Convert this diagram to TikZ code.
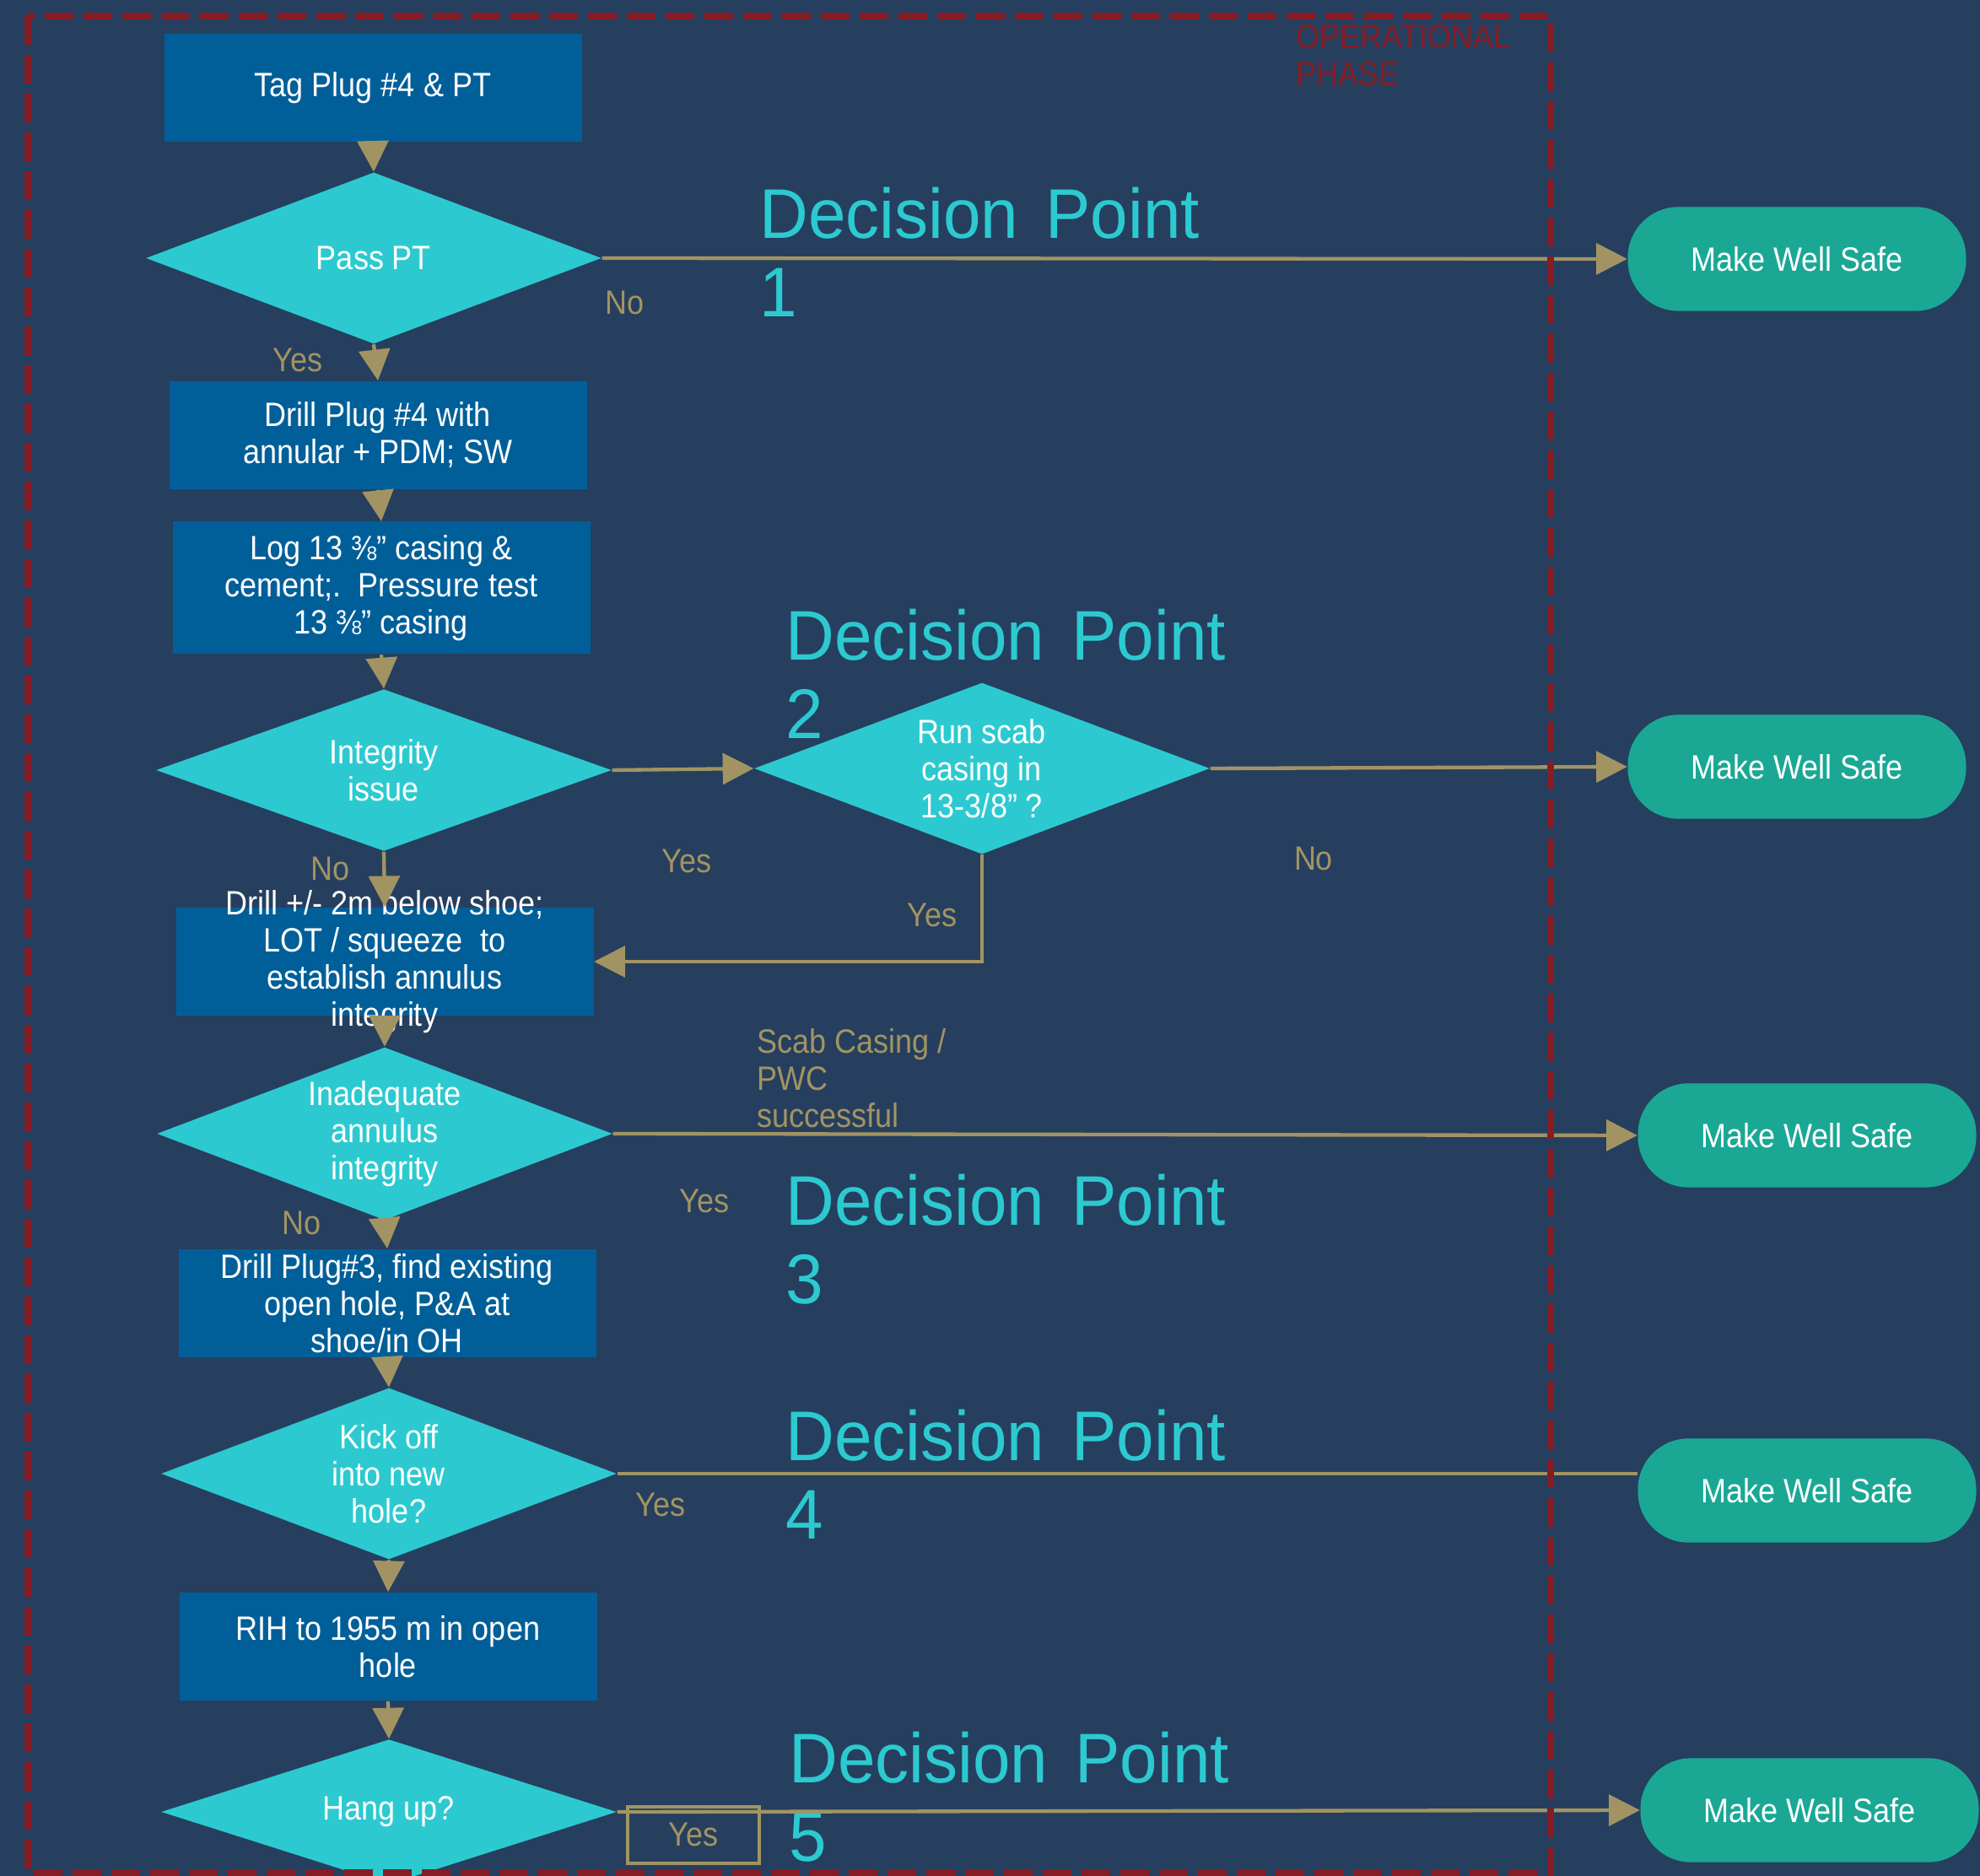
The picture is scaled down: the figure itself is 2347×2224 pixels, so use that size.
\documentclass[tikz,border=0pt]{standalone}
\usepackage{fontspec}
\setmainfont{Liberation Sans}[FakeStretch=0.9]
\newfontfamily\dpfont{Liberation Sans}[FakeStretch=0.96]
\usetikzlibrary{shapes.geometric,arrows.meta}
\definecolor{bg}{HTML}{263F5F}
\definecolor{boxblue}{HTML}{005F99}
\definecolor{dcyan}{HTML}{2CCAD0}
\definecolor{mteal}{HTML}{1AA895}
\definecolor{dred}{HTML}{861C24}
\definecolor{tanc}{HTML}{A29462}
\begin{document}
\begin{tikzpicture}[x=0.3pt,y=-0.3pt,
  txt/.style={font=\fontsize{12}{13.2}\selectfont, align=center},
  stepbox/.style={txt, rectangle, fill=boxblue, text=white, inner sep=0pt, minimum width=148.5pt, minimum height=38.5pt},
  decision/.style={txt, diamond, aspect=2.66, fill=dcyan, text=white, inner sep=0pt, minimum width=162pt, minimum height=61pt},
  safe/.style={txt, rectangle, rounded corners=18pt, fill=mteal, text=white, inner sep=0pt, minimum width=120.3pt, minimum height=37pt},
  flow/.style={draw=tanc, line width=1.3pt, -{Triangle[length=11pt,width=11pt]}},
  plain/.style={draw=tanc, line width=1.3pt},
  lbl/.style={font=\fontsize{12}{13.2}\selectfont, text=tanc, inner sep=0pt},
  dp/.style={font=\dpfont\fontsize{25}{28}\selectfont, text=dcyan, align=left, inner sep=0pt, anchor=north west},
]
\fill[bg] (0,0) rectangle (2347,2224);
\useasboundingbox (0,0) rectangle (2347,2224);

% main column
\node[stepbox] (tag) at (442,104) {Tag Plug \#4 \& PT};
\node[decision] (pass) at (443,306) {Pass PT};
\node[stepbox] (drill4) at (448,516) {Drill Plug \#4 with\\annular + PDM; SW};
\node[stepbox, minimum height=47.1pt] (log) at (452,697) {Log 13 ⅜” casing \&\\cement;.\ \ Pressure test\\13 ⅜” casing};
\node[decision, minimum height=57.6pt] (integ) at (455,913) {Integrity\\issue};
\node[decision] (scab) at (1164,911) {Run scab\\casing in\\13-3/8” ?};
\node[stepbox] (drill2) at (456,1140) {};
\node[txt, text=white, inner sep=0pt] (drill2t) at (456,1140) {Drill +/- 2m below shoe;\\LOT / squeeze\ \ to\\establish annulus\\integrity};
\node[decision, minimum height=61.5pt] (inad) at (456,1344) {Inadequate\\annulus\\integrity};
\node[stepbox] (drill3) at (459,1545) {Drill Plug\#3, find existing\\open hole, P\&A at\\shoe/in OH};
\node[decision] (kick) at (461,1747) {Kick off\\into new\\hole?};
\node[stepbox] (rih) at (460,1952) {RIH to 1955 m in open\\hole};
\node[decision, minimum height=51.6pt] (hang) at (461,2148) {Hang up?};

% outcomes
\node[safe] (mws1) at (2130,307) {Make Well Safe};
\node[safe] (mws2) at (2130,909) {Make Well Safe};
\node[safe] (mws3) at (2142,1346) {Make Well Safe};
\node[safe] (mws4) at (2142,1767) {Make Well Safe};
\node[safe] (mws5) at (2145,2146) {Make Well Safe};

% decision point titles
\node[dp] (dp1) at (900,221) {Decision\hspace{0.12em} Point\\1};
\node[dp] (dp2) at (931,721) {Decision\hspace{0.12em} Point\\2};
\node[dp] (dp3) at (931,1391) {Decision\hspace{0.12em} Point\\3};
\node[dp] (dp4) at (931,1670) {Decision\hspace{0.12em} Point\\4};
\node[dp] (dp5) at (935,2052) {Decision\hspace{0.12em} Point\\5};

% labels
\node[lbl] (no1) at (741,359) {No};
\node[lbl] (yes1) at (353,427) {Yes};
\node[lbl] (yes2) at (814,1021) {Yes};
\node[lbl] (no2) at (1557,1018) {No};
\node[lbl] (yes3) at (1105,1085) {Yes};
\node[lbl] (no3) at (392,1030) {No};
\node[lbl, align=left, anchor=north west] (scablbl) at (897,1219) {Scab Casing /\\PWC\\successful};
\node[lbl] (yes4) at (835,1424) {Yes};
\node[lbl] (no4) at (358,1450) {No};
\node[lbl] (yes5) at (783,1784) {Yes};
\node[lbl, draw=tanc, line width=1.2pt, minimum width=46.8pt, minimum height=20.1pt] (yes6) at (822,2175) {Yes};
\node[font=\fontsize{12}{13.2}\selectfont, text=dred, align=left, anchor=north west, inner sep=0pt] (phase) at (1536,29) {OPERATIONAL\\PHASE};

% connectors
\draw[flow] (tag.south) -- (pass.north);
\draw[flow] (pass.east) -- (mws1.west);
\draw[flow] (pass.south) -- (drill4.north);
\draw[flow] (drill4.south) -- (log.north);
\draw[flow] (log.south) -- (integ.north);
\draw[flow] (integ.east) -- (scab.west);
\draw[flow] (integ.south) -- (drill2.north);
\draw[flow] (scab.east) -- (mws2.west);
\draw[flow] (scab.south) |- (drill2.east);
\draw[flow] (drill2.south) -- (inad.north);
\draw[flow] (inad.east) -- (mws3.west);
\draw[flow] (inad.south) -- (drill3.north);
\draw[flow] (drill3.south) -- (kick.north);
\draw[plain] (kick.east) -- (kick.east -| mws4.west);
\draw[flow] (kick.south) -- (rih.north);
\draw[flow] (rih.south) -- (hang.north);
\draw[flow] (hang.east) -- (mws5.west);

% operational phase frame
\draw[dred, line width=2.4pt, dash pattern=on 10.2pt off 3.6pt] (33,19) rectangle (1838,2220);
\end{tikzpicture}
\end{document}
